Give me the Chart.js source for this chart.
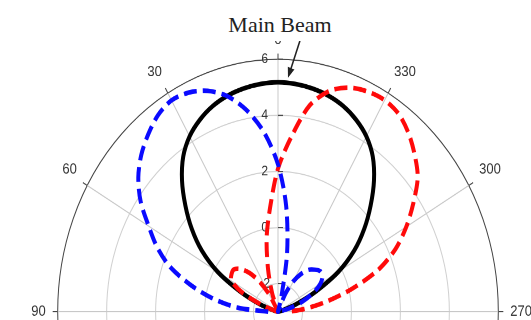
<!DOCTYPE html>
<html>
<head>
<meta charset="utf-8">
<script src="https://cdn.jsdelivr.net/npm/chart.js@4.4.1/dist/chart.umd.min.js"></script>
<style>
    html, body { margin: 0; padding: 0; width: 531px; height: 320px; overflow: hidden; background: #fff; }
    #wrap { position: absolute; left: 28px; top: 0; width: 508px; height: 545px; transform: scaleY(1.146); transform-origin: 0 0; }
    #title { position: absolute; left: 180px; top: 0; width: 200px; height: 41px; box-sizing: border-box; padding-top: 14px; background: #fff; text-align: center; font-family: "Liberation Serif", serif; font-size: 22px; line-height: 22px; color: #222; }
</style>
</head>
<body>
<div id="wrap"><canvas id="beamChart"></canvas></div>
<div id="title">Main Beam</div>
<script>
// 角度：从左侧 90° 经顶部 0° 到右侧 270°
const angles = [90, 85, 80, 75, 70, 65, 60, 55, 50, 45, 40, 35, 30, 25, 20, 15, 10, 5, 0,
    355, 350, 345, 340, 335, 330, 325, 320, 315, 310, 305, 300, 295, 290, 285, 280, 275, 270];

// 主波束（黑色实线）
const mainBeam = [-3, -3, -3, -2.8, -2.2, -1.3, -0.15, 0.8, 1.6, 2.35, 3.1, 3.75, 4.22, 4.55, 4.8, 4.97, 5.08, 5.15, 5.18,
    5.15, 5.08, 4.97, 4.8, 4.55, 4.22, 3.75, 3.1, 2.35, 1.6, 0.8, -0.15, -1.3, -2.2, -2.8, -3, -3, -3];

// 左偏波束（蓝色虚线）
const leftBeam = [-2.6, -1.35, -0.3, 0.7, 1.7, 2.45, 3.1, 3.85, 4.45, 4.9, 5.25, 5.55, 5.7, 5.62, 5.38, 4.95, 4.28, 3.4, 2.25,
    0.8, -0.86, -2.5, -3, -2.3, -1.75, -1.35, -1.05, -0.88, -0.75, -0.78, -1.0, -1.42, -1.95, -2.5, -2.9, -3, -3];

// 右偏波束（红色虚线）
const rightBeam = [-3, -3, -3, -2.9, -2.3, -1.4, -0.8, -0.68, -0.65, -0.85, -1.2, -1.7, -2.3, -2.9, -2.3, -1.43, -0.33, 0.72, 2.1,
    3.26, 4.47, 5.15, 5.5, 5.66, 5.71, 5.6, 5.3, 4.9, 4.45, 3.75, 3.05, 2.3, 1.35, 0.1, -1.05, -1.95, -2.6];

const radialTicks = [-2, 0, 2, 4, 6];
const angleTicks = [0, 30, 60, 90, 270, 300, 330];
const rMin = -3;
const rMax = 6;
const step = 5;

// Chart.js 雷达图顺时针排列，参考图角度逆时针增加
const labels = [];
for (let i = 0; i < 360 / step; i++) {
    labels.push(String((360 - i * step) % 360));
}

function toRadar(values) {
    return labels.map(l => {
        const k = angles.indexOf(Number(l));
        return k >= 0 ? values[k] : null;
    });
}

function indexOfAngle(a) {
    return ((360 - a) % 360 + 360) % 360 / step;
}

// 刻度线：径向轴短刻度 + 外圈角度刻度
const tickMarks = {
    id: 'tickMarks',
    beforeDatasetsDraw(chart) {
        const s = chart.scales.r;
        const c = chart.ctx;
        c.save();
        c.strokeStyle = '#444';
        c.lineWidth = 1;
        radialTicks.forEach(v => {
            const p = s.getPointPositionForValue(0, v);
            c.beginPath();
            c.moveTo(p.x, p.y);
            c.lineTo(p.x + 5, p.y);
            c.stroke();
        });
        angleTicks.forEach(a => {
            const i = indexOfAngle(a);
            const p1 = s.getPointPosition(i, s.drawingArea);
            const p2 = s.getPointPosition(i, s.drawingArea + 5);
            c.beginPath();
            c.moveTo(p1.x, p1.y);
            c.lineTo(p2.x, p2.y);
            c.stroke();
        });
        c.restore();
    }
};

// "Main Beam" 指示箭头
const beamArrow = {
    id: 'beamArrow',
    afterDatasetsDraw(chart) {
        const s = chart.scales.r;
        const c = chart.ctx;
        const from = s.getPointPositionForValue(indexOfAngle(-5.3), 6.7);
        const to = s.getPointPositionForValue(indexOfAngle(-2.8), 5.35);
        const ang = Math.atan2(to.y - from.y, to.x - from.x);
        c.save();
        c.strokeStyle = '#222';
        c.fillStyle = '#222';
        c.lineWidth = 1.5;
        c.beginPath();
        c.moveTo(from.x, from.y);
        c.lineTo(to.x - 6 * Math.cos(ang), to.y - 6 * Math.sin(ang));
        c.stroke();
        c.beginPath();
        c.moveTo(to.x, to.y);
        c.lineTo(to.x - 9 * Math.cos(ang) + 3.5 * Math.sin(ang), to.y - 9 * Math.sin(ang) - 3.5 * Math.cos(ang));
        c.lineTo(to.x - 9 * Math.cos(ang) - 3.5 * Math.sin(ang), to.y - 9 * Math.sin(ang) + 3.5 * Math.cos(ang));
        c.closePath();
        c.fill();
        c.restore();
    }
};

const beamChartEl = document.getElementById('beamChart');
const beamChart = new Chart(beamChartEl, {
    type: 'radar',
    data: {
        labels: labels,
        datasets: [
            {
                label: 'Left beam',
                data: toRadar(leftBeam),
                borderColor: '#0a0aff',
                borderDash: [13, 6],
                borderWidth: 4,
                fill: false
            },
            {
                label: 'Right beam',
                data: toRadar(rightBeam),
                borderColor: '#ff0a0a',
                borderDash: [13, 6],
                borderWidth: 4,
                fill: false
            },
            {
                label: 'Main beam',
                data: toRadar(mainBeam),
                borderColor: '#000000',
                borderWidth: 4,
                fill: false
            }
        ]
    },
    options: {
        responsive: true,
        maintainAspectRatio: false,
        animation: false,
        devicePixelRatio: 2,
        spanGaps: false,
        elements: {
            line: { tension: 0.3 },
            point: { radius: 0, hitRadius: 0 }
        },
        plugins: {
            legend: { display: false },
            tooltip: { enabled: false }
        },
        scales: {
            r: {
                min: rMin,
                max: rMax,
                startAngle: 0,
                afterBuildTicks: function(scale) {
                    scale.ticks = radialTicks.map(v => ({ value: v }));
                },
                grid: {
                    circular: true,
                    color: ctx => (ctx.tick && ctx.tick.value === rMax) ? '#444' : '#d0d0d0',
                    lineWidth: 1
                },
                angleLines: {
                    color: '#c8c8c8',
                    lineWidth: ctx => ctx.label ? 1 : 0
                },
                pointLabels: {
                    callback: label => angleTicks.includes(Number(label)) ? label : '',
                    color: '#333',
                    padding: ctx => ctx.index === 0 ? 1 : 4,
                    font: { family: 'Liberation Sans', size: 13 }
                },
                ticks: {
                    callback: v => v + '        ',
                    showLabelBackdrop: false,
                    color: '#333',
                    font: { family: 'Liberation Sans', size: 12 }
                }
            }
        }
    },
    plugins: [tickMarks, beamArrow]
});
</script>
</body>
</html>
